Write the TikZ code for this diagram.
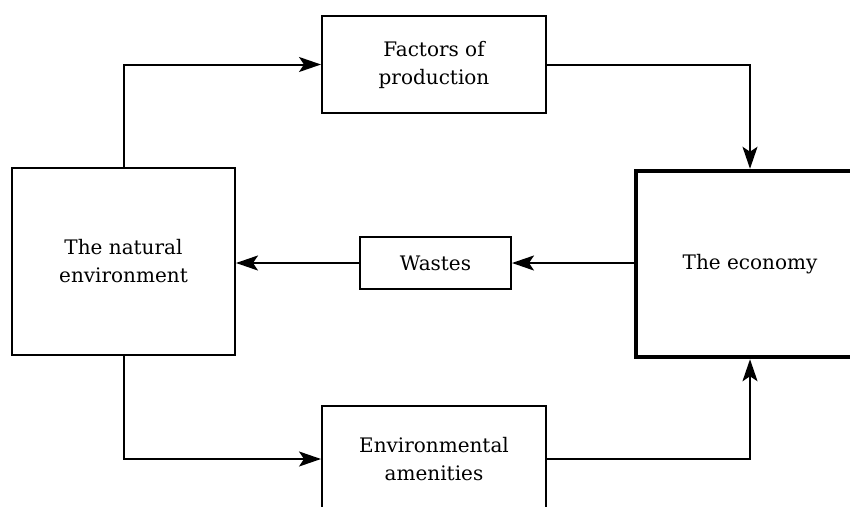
\documentclass[tikz,border=0pt]{standalone}
\usepackage{fontspec}
\setmainfont{DejaVu Serif}
\usepackage{tikz}
\usetikzlibrary{arrows.meta}
\tikzset{box/.style = {draw, line width=2pt, align=center, text centered, font=\fontsize{20}{28}\selectfont}}
\tikzset{bigbox/.style = {box, line width=4.5pt}}
\tikzset{arr/.style = {line width=2pt, -{Stealth[length=22pt, width=15pt, inset=5pt]}}}

\begin{document}
\begin{tikzpicture}[x=1pt, y=-1pt]
\useasboundingbox (0,0) rectangle (850,506);

\node[box, minimum width=223pt, minimum height=187pt] (nature) at (123.5,261.5) {The natural\\environment};
\node[box, minimum width=224pt, minimum height=97pt] (factors) at (434,64.5) {Factors of\\production};
\node[box, minimum width=151pt, minimum height=52pt] (wastes) at (435.5,263) {Wastes};
\node[bigbox, minimum width=228pt, minimum height=186pt] (economy) at (750,264) {The economy};
\node[box, minimum width=224pt, minimum height=106pt] (amenities) at (434,459) {Environmental\\amenities};

\draw[arr]  (nature.north) |- (factors.west);
\draw[arr]  (factors.east) -| (economy.north);
\draw[arr]  (economy.west |- wastes) -- (wastes.east);
\draw[arr]  (wastes.west) -- (nature.east |- wastes);
\draw[arr]  (nature.south) |- (amenities.west);
\draw[arr]  (amenities.east) -| (economy.south);

\end{tikzpicture}
\end{document}
